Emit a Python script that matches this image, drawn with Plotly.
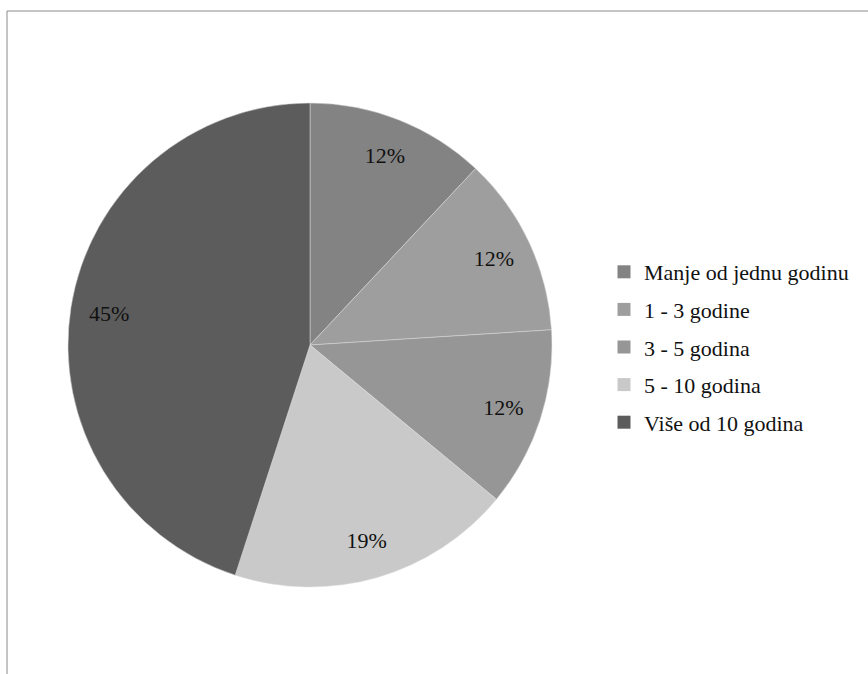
import plotly.graph_objects as go

categories = ["Manje od jednu godinu", "1 - 3 godine", "3 - 5 godina", "5 - 10 godina", "Više od 10 godina"]
values = [12, 12, 12, 19, 45]
colors = ["#838383", "#9e9e9e", "#969696", "#c9c9c9", "#5c5c5c"]

W, H = 868, 674
dom_x = [68 / W, 552 / W]
dom_y = [1 - 587 / H, 1 - 103 / H]
FONT = "Liberation Serif, Times New Roman, serif"

fig = go.Figure()
# main colored pie
fig.add_trace(go.Pie(
    labels=categories, values=values, sort=False, direction="clockwise", rotation=0,
    marker=dict(colors=colors, line=dict(color="#dcdcdc", width=0.5)),
    textinfo="none", hoverinfo="skip", showlegend=False,
    domain=dict(x=dom_x, y=dom_y),
))
# transparent ring pie carrying percentage labels near the rim
fig.add_trace(go.Pie(
    labels=categories, values=values, sort=False, direction="clockwise", rotation=0,
    hole=0.68,
    marker=dict(colors=["rgba(0,0,0,0)"] * len(values), line=dict(width=0)),
    texttemplate="%{percent:.0%}", textposition="inside", insidetextorientation="horizontal",
    textfont=dict(family=FONT, size=22, color="#111111"),
    hoverinfo="skip", showlegend=False,
    domain=dict(x=dom_x, y=dom_y),
))
# legend entries
for i, (c, col) in enumerate(zip(categories, colors)):
    fig.add_trace(go.Scatter(
        x=[None], y=[None], mode="markers", name=c, legendgroup=str(i),
        marker=dict(symbol="square", size=13, color=col),
    ))

fig.update_layout(
    width=W, height=H,
    margin=dict(l=0, r=0, t=0, b=0),
    paper_bgcolor="white", plot_bgcolor="white",
    font=dict(family=FONT),
    xaxis=dict(visible=False), yaxis=dict(visible=False),
    showlegend=True,
    legend=dict(
        x=604 / W, xanchor="left", y=1 - 347 / H, yanchor="middle",
        font=dict(family=FONT, size=22, color="#111111"),
        tracegroupgap=6, traceorder="grouped", bgcolor="rgba(0,0,0,0)",
    ),
    shapes=[dict(type="rect", xref="paper", yref="paper",
                 x0=7 / W, x1=1.02, y0=-0.02, y1=1 - 11 / H,
                 line=dict(color="#8a8a8a", width=1), fillcolor="rgba(0,0,0,0)", layer="below")],
)

fig.write_html("out.html")
